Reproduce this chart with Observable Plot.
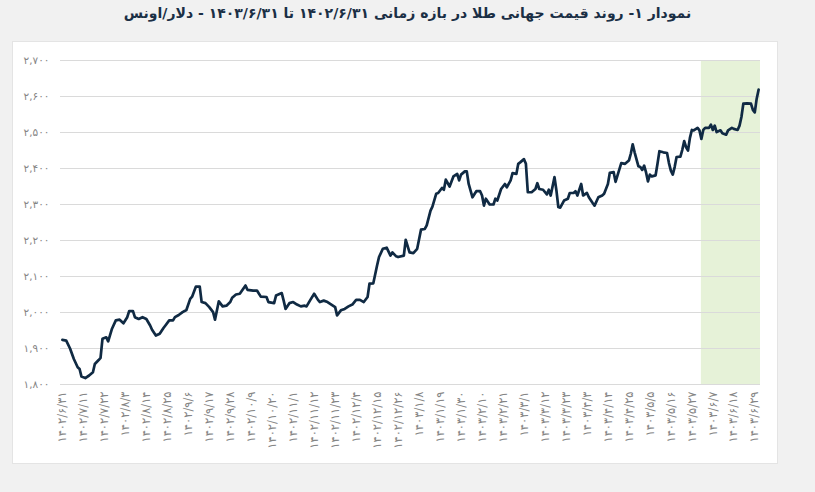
<!DOCTYPE html>
<html><head><meta charset="utf-8">
<script src="https://cdn.jsdelivr.net/npm/d3@7"></script>
<script src="https://cdn.jsdelivr.net/npm/@observablehq/plot@0.6"></script>
<style>
html,body{margin:0;padding:0;background:#f1f1f1;width:815px;height:492px;overflow:hidden;}
#title{position:absolute;left:0;top:0;width:815px;height:27px;line-height:27px;text-align:center;direction:rtl;font-family:"DejaVu Sans";font-weight:bold;font-size:14px;color:#1b2f45;}
#panel{position:absolute;left:12px;top:41px;width:764px;height:421px;background:#fff;border:1px solid #e4e4e4;}
#chart{position:absolute;left:0;top:28px;}
#chart g[aria-label="x-axis tick label"] text{font-size:11.5px;letter-spacing:1.1px;}
#chart g[aria-label="y-axis tick label"] text{font-size:10.5px;}
</style></head><body>
<div id="title">نمودار ۱- روند قیمت جهانی طلا در بازه زمانی ۱۴۰۲/۶/۳۱ تا ۱۴۰۳/۶/۳۱ - دلار/اونس</div>
<div id="panel"></div>
<div id="chart"></div>
<script>
// day index from 1402/6/31
const days = [0,2,4,6,8,9,10,12,14,16,17,19,20,21,23,24,26,28,30,32,34,35,37,38,40,42,44,46,47,49,51,53,54,56,58,59,61,63,65,67,68,70,72,73,75,77,79,80,82,84,86,88,89,91,93,96,97,100,
102,104,107,108,111,112,115,116,117,119,121,123,125,127,128,130,132,134,135,137,139,141,143,144,146,148,150,152,154,156,158,160,161,163,165,166,168,170,172,173,175,176,179,180,182,184,186,188,190,191,193,194,196,197,199,200,201,203,
205,207,208,209,211,212,213,215,217,219,220,221,222,224,226,227,228,230,232,233,235,236,238,239,240,242,243,244,246,248,249,250,252,254,255,256,258,259,260,261,263,265,266,268,269,270,272,273,275,276,278,279,281,283,284,286,
287,289,290,291,293,295,297,298,299,300,302,303,304,305,306,307,308,309,311,312,313,315,317,318,319,320,321,322,324,325,326,327,328,329,330,331,333,334,335,336,337,339,340,341,342,343,345,346,348,349,351,352,354,355,356,357,359,361,362,363,364,365];
// gold price, USD/oz
const prices = [1924,1922,1900,1871,1848,1843,1822,1818,1825,1834,1857,1868,1874,1927,1931,1920,1955,1978,1980,1970,1987,2004,2004,1987,1982,1987,1982,1964,1952,1936,1941,1957,1964,1978,1978,1987,1993,2001,2007,2038,2044,2072,2072,2029,2026,2015,2001,1980,2031,2017,2019,2029,2041,2050,2052,2075,2063,2061,
2061,2044,2043,2029,2026,2047,2054,2033,2010,2026,2029,2022,2017,2019,2017,2035,2052,2035,2029,2033,2029,2022,2015,1992,2006,2010,2017,2022,2035,2035,2029,2043,2080,2081,2131,2154,2177,2180,2158,2167,2156,2154,2158,2202,2167,2165,2177,2230,2232,2242,2283,2294,2330,2332,2346,2341,2369,2350,
2378,2385,2367,2383,2392,2392,2357,2320,2337,2337,2325,2297,2316,2300,2300,2316,2311,2343,2357,2348,2367,2387,2385,2413,2417,2426,2413,2334,2334,2343,2359,2343,2341,2328,2341,2325,2376,2339,2293,2291,2311,2316,2332,2332,2337,2325,2357,2325,2332,2320,2304,2297,2320,2325,2330,2357,
2388,2390,2363,2380,2415,2413,2422,2441,2467,2445,2406,2404,2396,2408,2389,2364,2383,2378,2381,2413,2448,2445,2443,2415,2394,2383,2404,2432,2433,2452,2476,2459,2450,2485,2507,2506,2513,2506,2482,2507,2513,2513,2522,2507,2519,2501,2506,2498,2494,2506,2513,2510,2507,2519,2543,2580,2581,2580,2563,2556,2594,2619];
const tickDays = [0,11,22,33,44,55,66,77,88,99,110,121,132,143,154,165,176,187,198,209,220,231,242,253,264,275,286,297,308,319,330,341,352,363];
const tickLabels = ["۱۴۰۲/۶/۳۱","۱۴۰۲/۷/۱۱","۱۴۰۲/۷/۲۲","۱۴۰۲/۸/۳","۱۴۰۲/۸/۱۴","۱۴۰۲/۸/۲۵","۱۴۰۲/۹/۶","۱۴۰۲/۹/۱۷","۱۴۰۲/۹/۲۸","۱۴۰۲/۱۰/۹","۱۴۰۲/۱۰/۲۰","۱۴۰۲/۱۱/۱","۱۴۰۲/۱۱/۱۲","۱۴۰۲/۱۱/۲۳","۱۴۰۲/۱۲/۴","۱۴۰۲/۱۲/۱۵","۱۴۰۲/۱۲/۲۶","۱۴۰۳/۱/۸","۱۴۰۳/۱/۱۹","۱۴۰۳/۱/۳۰","۱۴۰۳/۲/۱۰","۱۴۰۳/۲/۲۱","۱۴۰۳/۳/۱","۱۴۰۳/۳/۱۲","۱۴۰۳/۳/۲۳","۱۴۰۳/۴/۳","۱۴۰۳/۴/۱۴","۱۴۰۳/۴/۲۵","۱۴۰۳/۵/۵","۱۴۰۳/۵/۱۶","۱۴۰۳/۵/۲۷","۱۴۰۳/۶/۷","۱۴۰۳/۶/۱۸","۱۴۰۳/۶/۲۹"];
const yTicks = [1800,1900,2000,2100,2200,2300,2400,2500,2600,2700];
const xDomain = [-1, 366];
const bandStart = 335, bandEnd = 366; // Shahrivar 1403

const fa = "۰۱۲۳۴۵۶۷۸۹";
const toFa = s => String(s).replace(/[0-9]/g, c => fa[+c]);
const data = days.map((d, i) => ({d, p: prices[i]}));
const labelOf = new Map(tickDays.map((d, i) => [d, tickLabels[i]]));

const chart = Plot.plot({
  width: 815, height: 436,
  marginLeft: 60, marginRight: 55, marginTop: 32, marginBottom: 80,
  style: {background: "transparent", fontFamily: "DejaVu Sans", fontSize: "10px", color: "#858585"},
  x: {domain: xDomain, ticks: tickDays, tickFormat: d => labelOf.get(d), tickRotate: -90, tickSize: 0, tickPadding: 7, label: null},
  y: {domain: [yTicks[0], yTicks[yTicks.length - 1]], ticks: yTicks, tickFormat: v => toFa(d3.format(",")(v)), tickSize: 0, tickPadding: 11, label: null},
  marks: [
    Plot.rect([{x1: bandStart, x2: bandEnd}], {x1: "x1", x2: "x2", y1: yTicks[0], y2: yTicks[yTicks.length - 1], fill: "#e6f2d8"}),
    Plot.ruleY(yTicks, {stroke: "#dadada", strokeWidth: 1}),
    Plot.line(data, {x: "d", y: "p", stroke: "#102a43", strokeWidth: 2.7, strokeLinejoin: "round"})
  ]
});
document.getElementById("chart").appendChild(chart);
</script>
</body></html>
